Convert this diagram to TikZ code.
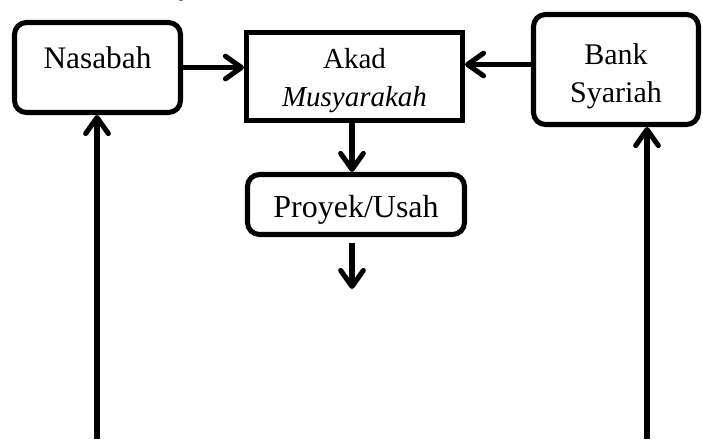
\documentclass[tikz,border=0pt]{standalone}
\usepackage{fontspec}
\setmainfont{Liberation Serif}
\usetikzlibrary{arrows.meta,calc}
\begin{document}
\begin{tikzpicture}[x=0.75pt,y=-0.75pt,
  line width=3.8pt,
  arr/.style={-{Straight Barb[length=12pt,width=17pt,line cap=round,line join=round]}},
  rbox/.style={draw,rounded corners=9pt,inner sep=0pt},
  sbox/.style={draw,inner sep=0pt},
  txt/.style={inner sep=0pt,align=center}]
\useasboundingbox (0,0) rectangle (703,439);
\begin{scope}
\clip (0,0) rectangle (703,439);
\node[anchor=base,font=\fontsize{23pt}{27pt}\selectfont,inner sep=0pt] (frag) at (186,-6) {y};
\end{scope}
\node[rbox,minimum width=166*0.75pt,minimum height=90*0.75pt] (nas) at (97.5,67.5) {};
\node[sbox,minimum width=216*0.75pt,minimum height=88*0.75pt] (akad) at (354.5,76.5) {};
\node[rbox,minimum width=165*0.75pt,minimum height=110*0.75pt] (bank) at (616,69.5) {};
\node[rbox,minimum width=217*0.75pt,minimum height=60*0.75pt] (proy) at (356,204.5) {};
\node[txt,font=\fontsize{23.5pt}{28pt}\selectfont] (nast) at ($(nas.center)+(0,-10)$) {Nasabah};
\node[txt,font=\fontsize{21.75pt}{28pt}\selectfont] (akadt) at ($(akad.center)+(0,4)$) {Akad\\\textit{Musyarakah}};
\node[txt,font=\fontsize{22.5pt}{28.5pt}\selectfont] (bankt) at ($(bank.center)+(0,7)$) {Bank\\Syariah};
\node[txt,font=\fontsize{24pt}{28pt}\selectfont] (proyt) at ($(proy.center)+(0,5)$) {Proyek/Usah};
\coordinate (lb) at (97,439);
\coordinate (rb) at (647,439);
\coordinate (pend) at (352,289);
\coordinate (bw) at ($(bank.west)+(0,-5)$);
\coordinate (ps) at ($(proy.south)+(-4,6)$);
\coordinate (ax) at (352,0);
\draw[arr] (nas.east) -- (nas.east -| akad.west);
\draw[arr] (bw) -- (bw -| akad.east);
\draw[arr] (akad.south -| ax) -- (proy.north -| ax);
\draw[arr] (ps) -- (pend);
\draw[arr] (lb) -- (lb |- nas.south);
\draw[arr] (rb) -- (rb |- bank.south);
\end{tikzpicture}
\end{document}
